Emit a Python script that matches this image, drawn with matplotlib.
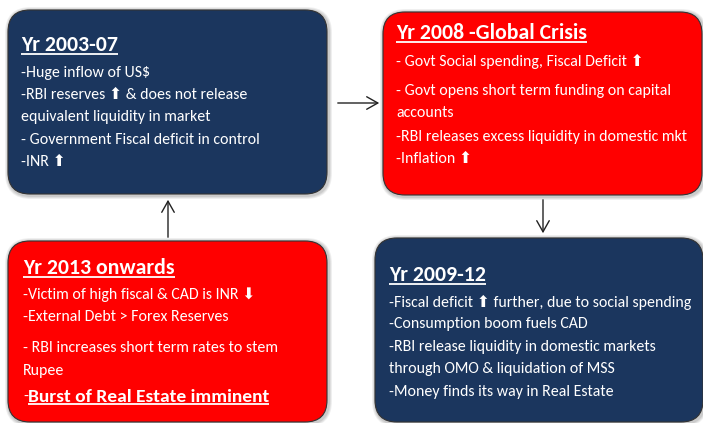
import matplotlib
matplotlib.use("Agg")
import matplotlib.pyplot as plt
from matplotlib import font_manager
from matplotlib.patches import FancyBboxPatch

installed = set(f.name for f in font_manager.fontManager.ttflist)
main_font = next((f for f in ["Carlito", "Archivo Narrow", "Roboto Condensed", "Liberation Sans"]
                  if f in installed), "DejaVu Sans")
plt.rcParams['font.family'] = [main_font, 'DejaVu Sans']

UP = "\u2b06"
DOWN = "\u2b07"

# Box contents
titles = ["Yr 2003-07", "Yr 2008 -Global Crisis", "Yr 2013 onwards", "Yr 2009-12"]
bullets_2003 = [
    "-Huge inflow of US$",
    "-RBI reserves " + UP + " & does not release",
    "equivalent liquidity in market",
    "- Government Fiscal deficit in control",
    "-INR " + UP,
]
bullets_2008 = [
    "- Govt Social spending, Fiscal Deficit " + UP,
    "- Govt opens short term funding on capital",
    "accounts",
    "-RBI releases excess liquidity in domestic mkt",
    "-Inflation " + UP,
]
bullets_2013 = [
    "-Victim of high fiscal & CAD is INR " + DOWN,
    "-External Debt > Forex Reserves",
    "- RBI increases short term rates to stem",
    "Rupee",
]
last_2013 = "Burst of Real Estate imminent"
bullets_2009 = [
    "-Fiscal deficit " + UP + " further, due to social spending",
    "-Consumption boom fuels CAD",
    "-RBI release liquidity in domestic markets",
    "through OMO & liquidation of MSS",
    "-Money finds its way in Real Estate",
]

NAVY = "#1B365E"
RED = "#FF0000"

# layout in pixel coordinates (x0, y0, x1, y1)
boxes = [(8, 10, 327, 194), (383, 12, 702, 195), (8, 241, 327, 422), (375, 238, 703, 422)]
fills = [NAVY, RED, RED, NAVY]
title_pos = [(21, 45), (396, 33), (23, 268), (389, 275)]
line_y = [
    [73, 95, 117, 140, 162],
    [61, 91, 113, 137, 159],
    [295, 317, 348, 371],
    [302, 324, 347, 369, 392],
]
all_bullets = [bullets_2003, bullets_2008, bullets_2013, bullets_2009]

fig = plt.figure(figsize=(7.03, 4.23), dpi=100)
ax = fig.add_axes([0, 0, 1, 1])
ax.set_xlim(0, 703)
ax.set_ylim(423, 0)
ax.axis("off")

r = 22
for (x0, y0, x1, y1), fc in zip(boxes, fills):
    # soft shadow, a few faint layers
    for k, a in [(4, 0.12), (3, 0.15), (2, 0.2)]:
        sh = FancyBboxPatch((x0 + r + 1, y0 + r + 1), x1 - x0 - 2 * r, y1 - y0 - 2 * r,
                            boxstyle=f"round,pad={r + k}", fc="#808080", ec="none", alpha=a,
                            clip_on=False)
        ax.add_patch(sh)
    p = FancyBboxPatch((x0 + r, y0 + r), x1 - x0 - 2 * r, y1 - y0 - 2 * r,
                       boxstyle=f"round,pad={r}", fc=fc, ec="#333333", lw=0.8,
                       clip_on=False)
    ax.add_patch(p)

underlined = []
for (tx, ty), title in zip(title_pos, titles):
    t = ax.text(tx, ty, title, color="white", fontsize=15.7, fontweight="bold",
                va="center", ha="left")
    underlined.append(t)

for (tx, _), ys, lines in zip(title_pos, line_y, all_bullets):
    for y, s in zip(ys, lines):
        ax.text(tx, y, s, color="white", fontsize=11.4, va="center", ha="left")

dash = ax.text(23, 397, "-", color="white", fontsize=11.4, va="center", ha="left")
fig.canvas.draw()
rend = fig.canvas.get_renderer()
bb = dash.get_window_extent(rend)
dx = ax.transData.inverted().transform((bb.x1, bb.y0))[0]
t = ax.text(dx, 397, last_2013, color="white", fontsize=14, fontweight="bold",
            va="center", ha="left")
underlined.append(t)

# underlines
fig.canvas.draw()
inv = ax.transData.inverted()
for t in underlined:
    bb = t.get_window_extent(rend)
    (ax0, ay0) = inv.transform((bb.x0, bb.y0))
    (ax1, _) = inv.transform((bb.x1, bb.y0))
    ax.plot([ax0, ax1], [ay0 - 1, ay0 - 1], color="white", lw=1.3, solid_capstyle="butt")

# connecting arrows
arrow_kw = dict(arrowstyle="->,head_length=0.8,head_width=0.45", color="#222222", lw=1.0)
ax.annotate("", xy=(382, 103), xytext=(335, 103), arrowprops=arrow_kw)
ax.annotate("", xy=(543, 236), xytext=(543, 197), arrowprops=arrow_kw)
ax.annotate("", xy=(168, 197), xytext=(168, 240), arrowprops=arrow_kw)

fig.savefig("out.png", dpi=100)
